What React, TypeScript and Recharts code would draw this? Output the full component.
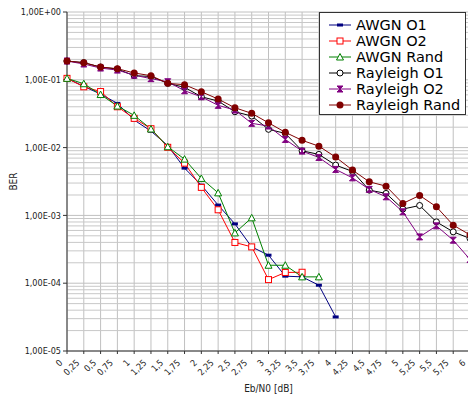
import React from 'react';
import { LineChart, Line, XAxis, YAxis, CartesianGrid, ReferenceLine } from 'recharts';

// Eb/N0 steps (dB)
const ebn0 = [0, 0.25, 0.5, 0.75, 1, 1.25, 1.5, 1.75, 2, 2.25, 2.5, 2.75, 3, 3.25, 3.5, 3.75, 4, 4.25, 4.5, 4.75, 5, 5.25, 5.5, 5.75, 6];

const awgnO1 = [0.105, 0.08, 0.0616, 0.0449, 0.0255, 0.0175, 0.0107, 0.00498, 0.00279, 0.00142, 0.00075, 0.000343, 0.000259, 0.000127, 0.000124, 0.0000934, 0.0000318, null, null, null, null, null, null, null, null];
const awgnO2 = [0.105, 0.0789, 0.0671, 0.04, 0.027, 0.019, 0.0101, 0.0059, 0.00259, 0.00121, 0.000399, 0.000343, 0.000113, 0.000144, 0.000145, null, null, null, null, null, null, null, null, null, null];
const awgnRand = [0.105, 0.0875, 0.0606, 0.041, 0.0299, 0.0188, 0.0103, 0.00676, 0.00351, 0.00215, 0.000552, 0.00092, 0.000184, 0.000184, 0.000124, 0.000124, null, null, null, null, null, null, null, null, null];
const rayO1 = [0.189, 0.179, 0.154, 0.144, 0.115, 0.112, 0.0887, 0.0774, 0.0562, 0.0486, 0.0338, 0.0292, 0.0186, 0.0162, 0.00897, 0.00794, 0.00552, 0.00445, 0.00236, 0.00211, 0.00124, 0.0014, 0.000803, 0.000572, 0.000457];
const rayO2 = [0.189, 0.171, 0.149, 0.139, 0.117, 0.104, 0.0936, 0.0689, 0.0562, 0.042, 0.0358, 0.0228, 0.0208, 0.0132, 0.00888, 0.00716, 0.00477, 0.00358, 0.00242, 0.00188, 0.00113, 0.000482, 0.000701, 0.000431, 0.000224];
const rayRand = [0.189, 0.179, 0.154, 0.146, 0.126, 0.115, 0.0887, 0.0845, 0.0667, 0.052, 0.0387, 0.032, 0.0232, 0.0168, 0.0128, 0.0105, 0.00724, 0.00466, 0.00313, 0.0027, 0.0015, 0.00197, 0.00134, 0.000718, 0.000516];

const decades = [1e-5, 1e-4, 1e-3, 1e-2, 1e-1, 1];

const data = ebn0.map((x, i) => ({
  x,
  awgnO1: awgnO1[i],
  awgnO2: awgnO2[i],
  awgnRand: awgnRand[i],
  rayO1: rayO1[i],
  rayO2: rayO2[i],
  rayRand: rayRand[i],
}));

// minor log grid lines 2..9 x 10^k
const minorLines: number[] = [];
decades.slice(0, -1).forEach((d) => {
  for (let m = 2; m <= 9; m++) minorLines.push(m * d);
});

const FONT = '"DejaVu Sans Condensed", "DejaVu Sans", sans-serif';

function fmtY(v: number) {
  const exp = Math.round(Math.log10(v));
  const sign = exp < 0 ? '-' : '+';
  const a = Math.abs(exp);
  return `1,00E${sign}${a < 10 ? '0' + a : a}`;
}

function Marker({ kind, color, cx, cy }: { kind: string; color: string; cx: number; cy: number }) {
  switch (kind) {
    case 'bar':
      return <rect x={cx - 3} y={cy - 1.5} width={6} height={3} fill={color} />;
    case 'square':
      return <rect x={cx - 3} y={cy - 3} width={6} height={6} fill="#fff" stroke={color} strokeWidth={1} />;
    case 'triangle':
      return <path d={`M${cx},${cy - 3.5}L${cx + 3.5},${cy + 3}L${cx - 3.5},${cy + 3}Z`} fill="#fff" stroke={color} strokeWidth={1} />;
    case 'circle':
      return <circle cx={cx} cy={cy} r={3} fill="#fff" stroke={color} strokeWidth={1} />;
    case 'hourglass':
      return <path d={`M${cx - 3},${cy - 3}L${cx + 3},${cy - 3}L${cx - 3},${cy + 3}L${cx + 3},${cy + 3}Z`} fill={color} stroke={color} strokeWidth={1} />;
    default:
      return <circle cx={cx} cy={cy} r={3.5} fill={color} />;
  }
}

const series = [
  { key: 'awgnO1', name: 'AWGN O1', color: '#000080', kind: 'bar' },
  { key: 'awgnO2', name: 'AWGN O2', color: '#ff0000', kind: 'square' },
  { key: 'awgnRand', name: 'AWGN Rand', color: '#008000', kind: 'triangle' },
  { key: 'rayO1', name: 'Rayleigh O1', color: '#000000', kind: 'circle' },
  { key: 'rayO2', name: 'Rayleigh O2', color: '#800080', kind: 'hourglass' },
  { key: 'rayRand', name: 'Rayleigh Rand', color: '#800000', kind: 'filled' },
];

const makeDot = (kind: string, color: string) => (props: any) => {
  const { cx, cy, index, value } = props;
  if (cx == null || cy == null || value == null || isNaN(cy)) return <g key={`d-${index}`} />;
  return (
    <g key={`d-${index}`}>
      <Marker kind={kind} color={color} cx={cx} cy={cy} />
    </g>
  );
};

const XTick = (props: any) => {
  const { x, y, payload } = props;
  const label = String(payload.value).replace('.', ',');
  return (
    <g transform={`translate(${x - 6},${y + 5}) rotate(-45)`}>
      <text x={0} y={0} dy="0.35em" textAnchor="end" fontSize={9} fontFamily={FONT} fill="#222">
        {label}
      </text>
    </g>
  );
};

export default function App() {
  return (
    <div style={{ position: 'absolute', left: 0, top: 0, width: 468, height: 396, overflow: 'hidden', background: '#fff' }}>
      <LineChart width={480} height={396} data={data} margin={{ top: 12, right: 10, left: 0, bottom: 0 }}>
        <CartesianGrid stroke="#c0c0c0" strokeWidth={1} />
        {minorLines.map((v) => (
          <ReferenceLine key={v} y={v} stroke="#c8c8c8" strokeWidth={1} />
        ))}
        <XAxis
          dataKey="x"
          type="number"
          domain={[0, 6]}
          ticks={ebn0}
          interval={0}
          height={45}
          stroke="#333"
          tickSize={3}
          tick={<XTick />}
          label={{ value: 'Eb/N0 [dB]', position: 'insideBottom', offset: 4, style: { fontSize: 10, fontFamily: FONT, fill: '#222' } }}
        />
        <YAxis
          scale="log"
          domain={[1e-5, 1]}
          ticks={decades}
          allowDataOverflow
          width={67}
          stroke="#333"
          tickSize={4}
          tickMargin={2}
          tickFormatter={fmtY}
          tick={{ fontSize: 9, fontFamily: FONT, fill: '#222' }}
          label={{ value: 'BER', angle: -90, position: 'insideLeft', offset: 13, style: { fontSize: 10, fontFamily: FONT, fill: '#222', textAnchor: 'middle' } }}
        />
        {series.map((s) => (
          <Line
            key={s.key}
            dataKey={s.key}
            name={s.name}
            stroke={s.color}
            strokeWidth={1}
            dot={makeDot(s.kind, s.color)}
            activeDot={false}
            isAnimationActive={false}
          />
        ))}
      </LineChart>
      <div
        style={{
          position: 'absolute',
          left: 319,
          top: 12,
          width: 147,
          height: 103,
          background: '#fff',
          border: '1px solid #333',
          boxSizing: 'border-box',
          paddingTop: 4,
        }}
      >
        {series.map((s) => (
          <div key={s.key} style={{ display: 'flex', alignItems: 'center', height: 16 }}>
            <svg width={36} height={16} style={{ flex: 'none' }}>
              <line x1={9} y1={8} x2={31} y2={8} stroke={s.color} strokeWidth={1} />
              <Marker kind={s.kind} color={s.color} cx={20} cy={8} />
            </svg>
            <span style={{ fontFamily: '"DejaVu Sans", sans-serif', fontSize: 14.5, color: '#000', whiteSpace: 'nowrap', lineHeight: '16px' }}>
              {s.name}
            </span>
          </div>
        ))}
      </div>
    </div>
  );
}
